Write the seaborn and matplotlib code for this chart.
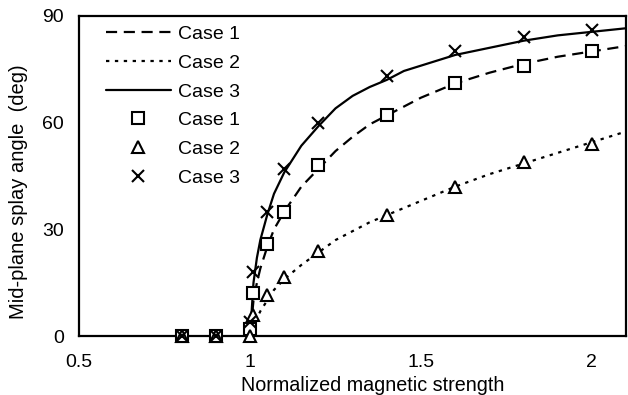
import numpy as np
import pandas as pd
import matplotlib
matplotlib.use("Agg")
import matplotlib.pyplot as plt
import seaborn as sns

# Theory curves (lines)
line_x = [0.5, 1.0, 1.01, 1.02, 1.03, 1.05, 1.07, 1.1, 1.15, 1.2, 1.25, 1.3, 1.35, 1.4, 1.45,
          1.5, 1.6, 1.7, 1.8, 1.9, 2.0, 2.1]
line_case1 = [0, 0, 10, 15, 19, 25, 30, 35, 42, 47, 52, 56, 59.5, 62, 64.5,
              67, 71, 74, 76.5, 78.5, 80, 81.5]
line_case2 = [0, 0, 3, 5, 7, 10, 13, 16, 20, 23.5, 27, 29.5, 32, 34, 36,
              38, 42, 45.5, 48.5, 51.5, 54.5, 57.5]
line_case3 = [0, 0, 15, 22, 27, 34, 40, 46, 53.5, 59, 64, 67.5, 70, 72, 74.5,
              76, 79, 81, 83, 84.5, 85.5, 86.5]

# Measured points (markers)
pt_x = [0.8, 0.9, 1.0, 1.01, 1.05, 1.1, 1.2, 1.4, 1.6, 1.8, 2.0]
pt_case1 = [0, 0, 2, 12, 26, 35, 48, 62, 71, 76, 80]
pt_case2 = [0, 0, 0, 6, 11.5, 16.5, 24, 34, 42, 49, 54]
pt_case3 = [0, 0, 4, 18, 35, 47, 60, 73, 80, 84, 86]

x_ticks = [0.5, 1, 1.5, 2]
y_ticks = [0, 30, 60, 90]

sns.set_style("white")
plt.rcParams['font.family'] = ['Liberation Sans', 'DejaVu Sans']
plt.rcParams['text.color'] = 'black'
plt.rcParams['axes.labelcolor'] = 'black'

fig, ax = plt.subplots(figsize=(6.28, 3.95), dpi=100)
fig.subplots_adjust(left=0.126, right=0.997, top=0.96, bottom=0.149)

lw = 1.6
sns.lineplot(x=line_x, y=line_case1, ax=ax, color='black', lw=lw,
             linestyle=(0, (5, 3)), label='Case 1', estimator=None, sort=False)
sns.lineplot(x=line_x, y=line_case2, ax=ax, color='black', lw=lw,
             linestyle=(0, (1.5, 2.5)), label='Case 2', estimator=None, sort=False)
sns.lineplot(x=line_x, y=line_case3, ax=ax, color='black', lw=lw,
             linestyle='-', label='Case 3', estimator=None, sort=False)

mk = dict(linestyle='', mec='black', mew=1.5, color='black', estimator=None, sort=False,
          clip_on=False, zorder=5)
sns.lineplot(x=pt_x, y=pt_case1, ax=ax, marker='s', ms=8, mfc='white', label='Case 1', **mk)
sns.lineplot(x=pt_x, y=pt_case2, ax=ax, marker='^', ms=8, mfc='white', label='Case 2', **mk)
sns.lineplot(x=pt_x, y=pt_case3, ax=ax, marker='x', ms=9, label='Case 3', **mk)

ax.set_xlim(0.5, 2.1)
ax.set_ylim(0, 90)
ax.set_xticks(x_ticks)
ax.set_xticklabels(['0.5', '1', '1.5', '2'])
ax.set_yticks(y_ticks)
ax.tick_params(axis='both', direction='out', length=4, width=0.8, color='#888888',
               labelsize=14, labelcolor='black')
ax.tick_params(axis='x', pad=9)
ax.tick_params(axis='y', pad=7)
for s in ax.spines.values():
    s.set_color('black')
    s.set_linewidth(1.6)

ax.set_xlabel('Normalized magnetic strength', fontsize=14.2, color='black')
ax.set_ylabel('Mid-plane splay angle  (deg)', fontsize=14.5, color='black')
ax.xaxis.set_label_coords(0.536, -0.124)
ax.yaxis.set_label_coords(-0.093, 0.45)

leg = ax.legend(loc='upper left', frameon=False, fontsize=14, handlelength=3.3,
                handletextpad=0.4, labelspacing=0.57, borderaxespad=0.1,
                bbox_to_anchor=(0.032, 1.0))
for t in leg.get_texts():
    t.set_color('black')

fig.savefig('out.png', dpi=100)
